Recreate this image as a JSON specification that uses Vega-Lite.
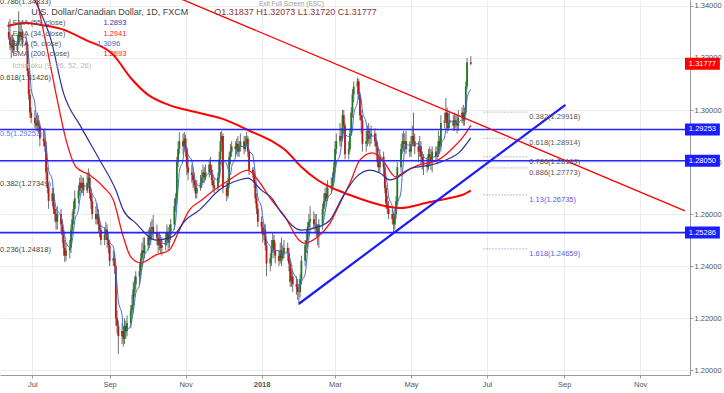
{
  "$schema": "https://vega.github.io/schema/vega-lite/v6.json",
  "width": 690,
  "height": 375,
  "autosize": "none",
  "padding": {"left": 0, "top": 0, "right": 34, "bottom": 18},
  "background": "#ffffff",
  "config": {"view": {"stroke": null}, "font": "Liberation Sans"},
  "datasets": {
    "candles": [
      {"d":"2017-06-12","o":1.3300,"h":1.3340,"l":1.3270,"c":1.3280},
      {"d":"2017-06-13","o":1.3280,"h":1.3350,"l":1.3230,"c":1.3250},
      {"d":"2017-06-14","o":1.3250,"h":1.3290,"l":1.3200,"c":1.3240},
      {"d":"2017-06-15","o":1.3240,"h":1.3290,"l":1.3220,"c":1.3270},
      {"d":"2017-06-16","o":1.3270,"h":1.3280,"l":1.3210,"c":1.3230},
      {"d":"2017-06-19","o":1.3230,"h":1.3290,"l":1.3220,"c":1.3260},
      {"d":"2017-06-20","o":1.3260,"h":1.3380,"l":1.3250,"c":1.3300},
      {"d":"2017-06-21","o":1.3300,"h":1.3330,"l":1.3260,"c":1.3280},
      {"d":"2017-06-22","o":1.3280,"h":1.3340,"l":1.3270,"c":1.3300},
      {"d":"2017-06-23","o":1.3300,"h":1.3310,"l":1.3240,"c":1.3260},
      {"d":"2017-06-26","o":1.3260,"h":1.3290,"l":1.3230,"c":1.3250},
      {"d":"2017-06-27","o":1.3250,"h":1.3260,"l":1.3130,"c":1.3150},
      {"d":"2017-06-28","o":1.3150,"h":1.3160,"l":1.3040,"c":1.3060},
      {"d":"2017-06-29","o":1.3060,"h":1.3080,"l":1.2970,"c":1.2990},
      {"d":"2017-06-30","o":1.2990,"h":1.3010,"l":1.2950,"c":1.2970},
      {"d":"2017-07-03","o":1.2970,"h":1.3000,"l":1.2930,"c":1.2950},
      {"d":"2017-07-04","o":1.2950,"h":1.2980,"l":1.2920,"c":1.2940},
      {"d":"2017-07-05","o":1.2940,"h":1.2990,"l":1.2920,"c":1.2960},
      {"d":"2017-07-06","o":1.2960,"h":1.2980,"l":1.2910,"c":1.2940},
      {"d":"2017-07-07","o":1.2940,"h":1.2950,"l":1.2860,"c":1.2890},
      {"d":"2017-07-10","o":1.2890,"h":1.2920,"l":1.2860,"c":1.2880},
      {"d":"2017-07-11","o":1.2880,"h":1.2930,"l":1.2840,"c":1.2860},
      {"d":"2017-07-12","o":1.2860,"h":1.2880,"l":1.2730,"c":1.2760},
      {"d":"2017-07-13","o":1.2760,"h":1.2780,"l":1.2680,"c":1.2700},
      {"d":"2017-07-14","o":1.2700,"h":1.2720,"l":1.2620,"c":1.2650},
      {"d":"2017-07-17","o":1.2650,"h":1.2700,"l":1.2630,"c":1.2680},
      {"d":"2017-07-18","o":1.2680,"h":1.2700,"l":1.2600,"c":1.2620},
      {"d":"2017-07-19","o":1.2620,"h":1.2640,"l":1.2570,"c":1.2600},
      {"d":"2017-07-20","o":1.2600,"h":1.2620,"l":1.2540,"c":1.2570},
      {"d":"2017-07-21","o":1.2570,"h":1.2630,"l":1.2540,"c":1.2600},
      {"d":"2017-07-24","o":1.2600,"h":1.2620,"l":1.2530,"c":1.2560},
      {"d":"2017-07-25","o":1.2560,"h":1.2580,"l":1.2490,"c":1.2520},
      {"d":"2017-07-26","o":1.2520,"h":1.2540,"l":1.2440,"c":1.2470},
      {"d":"2017-07-27","o":1.2470,"h":1.2500,"l":1.2415,"c":1.2440},
      {"d":"2017-07-28","o":1.2440,"h":1.2490,"l":1.2420,"c":1.2460},
      {"d":"2017-07-31","o":1.2460,"h":1.2500,"l":1.2430,"c":1.2470},
      {"d":"2017-08-01","o":1.2470,"h":1.2560,"l":1.2450,"c":1.2540},
      {"d":"2017-08-02","o":1.2540,"h":1.2610,"l":1.2520,"c":1.2580},
      {"d":"2017-08-03","o":1.2580,"h":1.2650,"l":1.2560,"c":1.2620},
      {"d":"2017-08-04","o":1.2620,"h":1.2690,"l":1.2600,"c":1.2660},
      {"d":"2017-08-07","o":1.2660,"h":1.2710,"l":1.2640,"c":1.2690},
      {"d":"2017-08-08","o":1.2690,"h":1.2740,"l":1.2670,"c":1.2720},
      {"d":"2017-08-09","o":1.2720,"h":1.2750,"l":1.2680,"c":1.2700},
      {"d":"2017-08-10","o":1.2700,"h":1.2740,"l":1.2680,"c":1.2720},
      {"d":"2017-08-11","o":1.2720,"h":1.2740,"l":1.2670,"c":1.2690},
      {"d":"2017-08-14","o":1.2690,"h":1.2760,"l":1.2680,"c":1.2720},
      {"d":"2017-08-15","o":1.2720,"h":1.2775,"l":1.2700,"c":1.2740},
      {"d":"2017-08-16","o":1.2740,"h":1.2760,"l":1.2660,"c":1.2680},
      {"d":"2017-08-17","o":1.2680,"h":1.2700,"l":1.2620,"c":1.2650},
      {"d":"2017-08-18","o":1.2650,"h":1.2670,"l":1.2580,"c":1.2600},
      {"d":"2017-08-21","o":1.2600,"h":1.2630,"l":1.2560,"c":1.2580},
      {"d":"2017-08-22","o":1.2580,"h":1.2640,"l":1.2560,"c":1.2600},
      {"d":"2017-08-23","o":1.2600,"h":1.2620,"l":1.2530,"c":1.2560},
      {"d":"2017-08-24","o":1.2560,"h":1.2580,"l":1.2510,"c":1.2540},
      {"d":"2017-08-25","o":1.2540,"h":1.2560,"l":1.2480,"c":1.2500},
      {"d":"2017-08-28","o":1.2500,"h":1.2550,"l":1.2480,"c":1.2520},
      {"d":"2017-08-29","o":1.2520,"h":1.2570,"l":1.2500,"c":1.2540},
      {"d":"2017-08-30","o":1.2540,"h":1.2560,"l":1.2470,"c":1.2500},
      {"d":"2017-08-31","o":1.2500,"h":1.2530,"l":1.2450,"c":1.2480},
      {"d":"2017-09-01","o":1.2480,"h":1.2500,"l":1.2400,"c":1.2420},
      {"d":"2017-09-04","o":1.2420,"h":1.2460,"l":1.2400,"c":1.2430},
      {"d":"2017-09-05","o":1.2430,"h":1.2450,"l":1.2370,"c":1.2400},
      {"d":"2017-09-06","o":1.2400,"h":1.2410,"l":1.2170,"c":1.2200},
      {"d":"2017-09-07","o":1.2200,"h":1.2230,"l":1.2140,"c":1.2170},
      {"d":"2017-09-08","o":1.2170,"h":1.2190,"l":1.2062,"c":1.2130},
      {"d":"2017-09-11","o":1.2130,"h":1.2180,"l":1.2100,"c":1.2150},
      {"d":"2017-09-12","o":1.2150,"h":1.2170,"l":1.2090,"c":1.2120},
      {"d":"2017-09-13","o":1.2120,"h":1.2200,"l":1.2100,"c":1.2170},
      {"d":"2017-09-14","o":1.2170,"h":1.2190,"l":1.2120,"c":1.2150},
      {"d":"2017-09-15","o":1.2150,"h":1.2210,"l":1.2130,"c":1.2180},
      {"d":"2017-09-18","o":1.2180,"h":1.2250,"l":1.2160,"c":1.2230},
      {"d":"2017-09-19","o":1.2230,"h":1.2290,"l":1.2210,"c":1.2250},
      {"d":"2017-09-20","o":1.2250,"h":1.2340,"l":1.2220,"c":1.2310},
      {"d":"2017-09-21","o":1.2310,"h":1.2360,"l":1.2280,"c":1.2330},
      {"d":"2017-09-22","o":1.2330,"h":1.2380,"l":1.2300,"c":1.2360},
      {"d":"2017-09-25","o":1.2360,"h":1.2410,"l":1.2330,"c":1.2380},
      {"d":"2017-09-26","o":1.2380,"h":1.2450,"l":1.2350,"c":1.2430},
      {"d":"2017-09-27","o":1.2430,"h":1.2490,"l":1.2400,"c":1.2460},
      {"d":"2017-09-28","o":1.2460,"h":1.2510,"l":1.2420,"c":1.2450},
      {"d":"2017-09-29","o":1.2450,"h":1.2510,"l":1.2430,"c":1.2480},
      {"d":"2017-10-02","o":1.2480,"h":1.2540,"l":1.2460,"c":1.2510},
      {"d":"2017-10-03","o":1.2510,"h":1.2550,"l":1.2470,"c":1.2500},
      {"d":"2017-10-04","o":1.2500,"h":1.2570,"l":1.2480,"c":1.2540},
      {"d":"2017-10-05","o":1.2540,"h":1.2580,"l":1.2510,"c":1.2550},
      {"d":"2017-10-06","o":1.2550,"h":1.2596,"l":1.2500,"c":1.2530},
      {"d":"2017-10-09","o":1.2530,"h":1.2560,"l":1.2480,"c":1.2510},
      {"d":"2017-10-10","o":1.2510,"h":1.2530,"l":1.2450,"c":1.2480},
      {"d":"2017-10-11","o":1.2480,"h":1.2530,"l":1.2460,"c":1.2500},
      {"d":"2017-10-12","o":1.2500,"h":1.2520,"l":1.2450,"c":1.2470},
      {"d":"2017-10-13","o":1.2470,"h":1.2510,"l":1.2440,"c":1.2480},
      {"d":"2017-10-16","o":1.2480,"h":1.2530,"l":1.2460,"c":1.2500},
      {"d":"2017-10-17","o":1.2500,"h":1.2560,"l":1.2480,"c":1.2530},
      {"d":"2017-10-18","o":1.2530,"h":1.2550,"l":1.2460,"c":1.2490},
      {"d":"2017-10-19","o":1.2490,"h":1.2560,"l":1.2470,"c":1.2520},
      {"d":"2017-10-20","o":1.2520,"h":1.2580,"l":1.2500,"c":1.2560},
      {"d":"2017-10-23","o":1.2560,"h":1.2660,"l":1.2540,"c":1.2630},
      {"d":"2017-10-24","o":1.2630,"h":1.2680,"l":1.2610,"c":1.2660},
      {"d":"2017-10-25","o":1.2660,"h":1.2820,"l":1.2640,"c":1.2800},
      {"d":"2017-10-26","o":1.2800,"h":1.2880,"l":1.2780,"c":1.2850},
      {"d":"2017-10-27","o":1.2850,"h":1.2915,"l":1.2830,"c":1.2880},
      {"d":"2017-10-30","o":1.2880,"h":1.2910,"l":1.2830,"c":1.2860},
      {"d":"2017-10-31","o":1.2860,"h":1.2915,"l":1.2840,"c":1.2890},
      {"d":"2017-11-01","o":1.2890,"h":1.2905,"l":1.2820,"c":1.2850},
      {"d":"2017-11-02","o":1.2850,"h":1.2860,"l":1.2750,"c":1.2780},
      {"d":"2017-11-03","o":1.2780,"h":1.2820,"l":1.2730,"c":1.2760},
      {"d":"2017-11-06","o":1.2760,"h":1.2790,"l":1.2720,"c":1.2750},
      {"d":"2017-11-07","o":1.2750,"h":1.2780,"l":1.2700,"c":1.2730},
      {"d":"2017-11-08","o":1.2730,"h":1.2760,"l":1.2690,"c":1.2710},
      {"d":"2017-11-09","o":1.2710,"h":1.2730,"l":1.2660,"c":1.2680},
      {"d":"2017-11-10","o":1.2680,"h":1.2730,"l":1.2660,"c":1.2700},
      {"d":"2017-11-13","o":1.2700,"h":1.2750,"l":1.2690,"c":1.2720},
      {"d":"2017-11-14","o":1.2720,"h":1.2770,"l":1.2700,"c":1.2740},
      {"d":"2017-11-15","o":1.2740,"h":1.2790,"l":1.2720,"c":1.2760},
      {"d":"2017-11-16","o":1.2760,"h":1.2780,"l":1.2720,"c":1.2740},
      {"d":"2017-11-17","o":1.2740,"h":1.2790,"l":1.2730,"c":1.2760},
      {"d":"2017-11-20","o":1.2760,"h":1.2810,"l":1.2740,"c":1.2790},
      {"d":"2017-11-21","o":1.2790,"h":1.2820,"l":1.2750,"c":1.2770},
      {"d":"2017-11-22","o":1.2770,"h":1.2790,"l":1.2710,"c":1.2730},
      {"d":"2017-11-23","o":1.2730,"h":1.2750,"l":1.2690,"c":1.2710},
      {"d":"2017-11-24","o":1.2710,"h":1.2740,"l":1.2680,"c":1.2700},
      {"d":"2017-11-27","o":1.2700,"h":1.2760,"l":1.2690,"c":1.2740},
      {"d":"2017-11-28","o":1.2740,"h":1.2840,"l":1.2720,"c":1.2810},
      {"d":"2017-11-29","o":1.2810,"h":1.2915,"l":1.2790,"c":1.2880},
      {"d":"2017-11-30","o":1.2880,"h":1.2920,"l":1.2840,"c":1.2900},
      {"d":"2017-12-01","o":1.2900,"h":1.2910,"l":1.2680,"c":1.2700},
      {"d":"2017-12-04","o":1.2700,"h":1.2720,"l":1.2650,"c":1.2670},
      {"d":"2017-12-05","o":1.2670,"h":1.2740,"l":1.2660,"c":1.2720},
      {"d":"2017-12-06","o":1.2720,"h":1.2840,"l":1.2700,"c":1.2820},
      {"d":"2017-12-07","o":1.2820,"h":1.2870,"l":1.2790,"c":1.2840},
      {"d":"2017-12-08","o":1.2840,"h":1.2880,"l":1.2820,"c":1.2860},
      {"d":"2017-12-11","o":1.2860,"h":1.2880,"l":1.2820,"c":1.2850},
      {"d":"2017-12-12","o":1.2850,"h":1.2890,"l":1.2830,"c":1.2870},
      {"d":"2017-12-13","o":1.2870,"h":1.2900,"l":1.2820,"c":1.2840},
      {"d":"2017-12-14","o":1.2840,"h":1.2880,"l":1.2820,"c":1.2860},
      {"d":"2017-12-15","o":1.2860,"h":1.2910,"l":1.2840,"c":1.2880},
      {"d":"2017-12-18","o":1.2880,"h":1.2900,"l":1.2830,"c":1.2850},
      {"d":"2017-12-19","o":1.2850,"h":1.2900,"l":1.2840,"c":1.2870},
      {"d":"2017-12-20","o":1.2870,"h":1.2916,"l":1.2860,"c":1.2890},
      {"d":"2017-12-21","o":1.2890,"h":1.2900,"l":1.2820,"c":1.2840},
      {"d":"2017-12-22","o":1.2840,"h":1.2850,"l":1.2750,"c":1.2770},
      {"d":"2017-12-25","o":1.2770,"h":1.2780,"l":1.2740,"c":1.2760},
      {"d":"2017-12-26","o":1.2760,"h":1.2780,"l":1.2700,"c":1.2720},
      {"d":"2017-12-27","o":1.2720,"h":1.2730,"l":1.2640,"c":1.2660},
      {"d":"2017-12-28","o":1.2660,"h":1.2680,"l":1.2600,"c":1.2620},
      {"d":"2017-12-29","o":1.2620,"h":1.2640,"l":1.2550,"c":1.2570},
      {"d":"2018-01-01","o":1.2570,"h":1.2590,"l":1.2530,"c":1.2550},
      {"d":"2018-01-02","o":1.2550,"h":1.2570,"l":1.2490,"c":1.2520},
      {"d":"2018-01-03","o":1.2520,"h":1.2560,"l":1.2500,"c":1.2540},
      {"d":"2018-01-04","o":1.2540,"h":1.2560,"l":1.2460,"c":1.2480},
      {"d":"2018-01-05","o":1.2480,"h":1.2500,"l":1.2360,"c":1.2410},
      {"d":"2018-01-08","o":1.2410,"h":1.2450,"l":1.2380,"c":1.2430},
      {"d":"2018-01-09","o":1.2430,"h":1.2500,"l":1.2400,"c":1.2470},
      {"d":"2018-01-10","o":1.2470,"h":1.2530,"l":1.2450,"c":1.2500},
      {"d":"2018-01-11","o":1.2500,"h":1.2520,"l":1.2430,"c":1.2460},
      {"d":"2018-01-12","o":1.2460,"h":1.2490,"l":1.2410,"c":1.2440},
      {"d":"2018-01-15","o":1.2440,"h":1.2460,"l":1.2400,"c":1.2420},
      {"d":"2018-01-16","o":1.2420,"h":1.2490,"l":1.2410,"c":1.2460},
      {"d":"2018-01-17","o":1.2460,"h":1.2510,"l":1.2400,"c":1.2430},
      {"d":"2018-01-18","o":1.2430,"h":1.2480,"l":1.2420,"c":1.2450},
      {"d":"2018-01-19","o":1.2450,"h":1.2500,"l":1.2430,"c":1.2470},
      {"d":"2018-01-22","o":1.2470,"h":1.2490,"l":1.2420,"c":1.2450},
      {"d":"2018-01-23","o":1.2450,"h":1.2470,"l":1.2380,"c":1.2410},
      {"d":"2018-01-24","o":1.2410,"h":1.2420,"l":1.2320,"c":1.2340},
      {"d":"2018-01-25","o":1.2340,"h":1.2390,"l":1.2320,"c":1.2360},
      {"d":"2018-01-26","o":1.2360,"h":1.2380,"l":1.2300,"c":1.2330},
      {"d":"2018-01-29","o":1.2330,"h":1.2360,"l":1.2290,"c":1.2320},
      {"d":"2018-01-30","o":1.2320,"h":1.2350,"l":1.2270,"c":1.2300},
      {"d":"2018-01-31","o":1.2300,"h":1.2330,"l":1.2250,"c":1.2300},
      {"d":"2018-02-01","o":1.2300,"h":1.2370,"l":1.2280,"c":1.2350},
      {"d":"2018-02-02","o":1.2350,"h":1.2440,"l":1.2330,"c":1.2420},
      {"d":"2018-02-05","o":1.2420,"h":1.2500,"l":1.2400,"c":1.2480},
      {"d":"2018-02-06","o":1.2480,"h":1.2540,"l":1.2450,"c":1.2500},
      {"d":"2018-02-07","o":1.2500,"h":1.2570,"l":1.2470,"c":1.2550},
      {"d":"2018-02-08","o":1.2550,"h":1.2600,"l":1.2520,"c":1.2570},
      {"d":"2018-02-09","o":1.2570,"h":1.2630,"l":1.2540,"c":1.2580},
      {"d":"2018-02-12","o":1.2580,"h":1.2610,"l":1.2540,"c":1.2560},
      {"d":"2018-02-13","o":1.2560,"h":1.2600,"l":1.2530,"c":1.2560},
      {"d":"2018-02-14","o":1.2560,"h":1.2600,"l":1.2510,"c":1.2540},
      {"d":"2018-02-15","o":1.2540,"h":1.2560,"l":1.2480,"c":1.2520},
      {"d":"2018-02-16","o":1.2520,"h":1.2580,"l":1.2470,"c":1.2560},
      {"d":"2018-02-19","o":1.2560,"h":1.2640,"l":1.2540,"c":1.2620},
      {"d":"2018-02-20","o":1.2620,"h":1.2680,"l":1.2600,"c":1.2650},
      {"d":"2018-02-21","o":1.2650,"h":1.2700,"l":1.2630,"c":1.2680},
      {"d":"2018-02-22","o":1.2680,"h":1.2710,"l":1.2640,"c":1.2660},
      {"d":"2018-02-23","o":1.2660,"h":1.2730,"l":1.2650,"c":1.2700},
      {"d":"2018-02-26","o":1.2700,"h":1.2740,"l":1.2680,"c":1.2710},
      {"d":"2018-02-27","o":1.2710,"h":1.2760,"l":1.2690,"c":1.2740},
      {"d":"2018-02-28","o":1.2740,"h":1.2800,"l":1.2720,"c":1.2780},
      {"d":"2018-03-01","o":1.2780,"h":1.2880,"l":1.2760,"c":1.2850},
      {"d":"2018-03-02","o":1.2850,"h":1.2910,"l":1.2830,"c":1.2880},
      {"d":"2018-03-05","o":1.2880,"h":1.2950,"l":1.2860,"c":1.2900},
      {"d":"2018-03-06","o":1.2900,"h":1.2930,"l":1.2860,"c":1.2890},
      {"d":"2018-03-07","o":1.2890,"h":1.3000,"l":1.2880,"c":1.2980},
      {"d":"2018-03-08","o":1.2980,"h":1.3000,"l":1.2910,"c":1.2940},
      {"d":"2018-03-09","o":1.2940,"h":1.2950,"l":1.2810,"c":1.2830},
      {"d":"2018-03-12","o":1.2830,"h":1.2880,"l":1.2810,"c":1.2850},
      {"d":"2018-03-13","o":1.2850,"h":1.2930,"l":1.2840,"c":1.2910},
      {"d":"2018-03-14","o":1.2910,"h":1.3010,"l":1.2900,"c":1.2990},
      {"d":"2018-03-15","o":1.2990,"h":1.3080,"l":1.2970,"c":1.3060},
      {"d":"2018-03-16","o":1.3060,"h":1.3110,"l":1.3030,"c":1.3090},
      {"d":"2018-03-19","o":1.3090,"h":1.3125,"l":1.3060,"c":1.3110},
      {"d":"2018-03-20","o":1.3110,"h":1.3120,"l":1.3040,"c":1.3060},
      {"d":"2018-03-21","o":1.3060,"h":1.3070,"l":1.2960,"c":1.2980},
      {"d":"2018-03-22","o":1.2980,"h":1.3000,"l":1.2910,"c":1.2960},
      {"d":"2018-03-23","o":1.2960,"h":1.2980,"l":1.2840,"c":1.2870},
      {"d":"2018-03-26","o":1.2870,"h":1.2920,"l":1.2840,"c":1.2880},
      {"d":"2018-03-27","o":1.2880,"h":1.2940,"l":1.2860,"c":1.2920},
      {"d":"2018-03-28","o":1.2920,"h":1.2950,"l":1.2870,"c":1.2890},
      {"d":"2018-03-29","o":1.2890,"h":1.2930,"l":1.2860,"c":1.2900},
      {"d":"2018-03-30","o":1.2900,"h":1.2940,"l":1.2870,"c":1.2910},
      {"d":"2018-04-02","o":1.2910,"h":1.2930,"l":1.2860,"c":1.2880},
      {"d":"2018-04-03","o":1.2880,"h":1.2910,"l":1.2830,"c":1.2860},
      {"d":"2018-04-04","o":1.2860,"h":1.2880,"l":1.2780,"c":1.2800},
      {"d":"2018-04-05","o":1.2800,"h":1.2830,"l":1.2760,"c":1.2780},
      {"d":"2018-04-06","o":1.2780,"h":1.2850,"l":1.2760,"c":1.2820},
      {"d":"2018-04-09","o":1.2820,"h":1.2840,"l":1.2750,"c":1.2780},
      {"d":"2018-04-10","o":1.2780,"h":1.2790,"l":1.2680,"c":1.2700},
      {"d":"2018-04-11","o":1.2700,"h":1.2710,"l":1.2620,"c":1.2640},
      {"d":"2018-04-12","o":1.2640,"h":1.2670,"l":1.2600,"c":1.2620},
      {"d":"2018-04-13","o":1.2620,"h":1.2650,"l":1.2580,"c":1.2600},
      {"d":"2018-04-16","o":1.2600,"h":1.2620,"l":1.2560,"c":1.2580},
      {"d":"2018-04-17","o":1.2580,"h":1.2600,"l":1.2527,"c":1.2560},
      {"d":"2018-04-18","o":1.2560,"h":1.2620,"l":1.2540,"c":1.2600},
      {"d":"2018-04-19","o":1.2600,"h":1.2670,"l":1.2580,"c":1.2650},
      {"d":"2018-04-20","o":1.2650,"h":1.2800,"l":1.2640,"c":1.2780},
      {"d":"2018-04-23","o":1.2780,"h":1.2870,"l":1.2760,"c":1.2850},
      {"d":"2018-04-24","o":1.2850,"h":1.2910,"l":1.2830,"c":1.2880},
      {"d":"2018-04-25","o":1.2880,"h":1.2920,"l":1.2840,"c":1.2870},
      {"d":"2018-04-26","o":1.2870,"h":1.2910,"l":1.2840,"c":1.2880},
      {"d":"2018-04-27","o":1.2880,"h":1.2920,"l":1.2830,"c":1.2850},
      {"d":"2018-04-30","o":1.2850,"h":1.2880,"l":1.2820,"c":1.2840},
      {"d":"2018-05-01","o":1.2840,"h":1.2900,"l":1.2820,"c":1.2870},
      {"d":"2018-05-02","o":1.2870,"h":1.2940,"l":1.2860,"c":1.2900},
      {"d":"2018-05-03","o":1.2900,"h":1.2990,"l":1.2860,"c":1.2880},
      {"d":"2018-05-04","o":1.2880,"h":1.2910,"l":1.2830,"c":1.2860},
      {"d":"2018-05-07","o":1.2860,"h":1.2880,"l":1.2800,"c":1.2840},
      {"d":"2018-05-08","o":1.2840,"h":1.2900,"l":1.2820,"c":1.2860},
      {"d":"2018-05-09","o":1.2860,"h":1.2880,"l":1.2790,"c":1.2820},
      {"d":"2018-05-10","o":1.2820,"h":1.2840,"l":1.2770,"c":1.2800},
      {"d":"2018-05-11","o":1.2800,"h":1.2830,"l":1.2750,"c":1.2790},
      {"d":"2018-05-14","o":1.2790,"h":1.2820,"l":1.2760,"c":1.2780},
      {"d":"2018-05-15","o":1.2780,"h":1.2850,"l":1.2770,"c":1.2830},
      {"d":"2018-05-16","o":1.2830,"h":1.2860,"l":1.2790,"c":1.2820},
      {"d":"2018-05-17","o":1.2820,"h":1.2850,"l":1.2770,"c":1.2800},
      {"d":"2018-05-18","o":1.2800,"h":1.2860,"l":1.2760,"c":1.2840},
      {"d":"2018-05-21","o":1.2840,"h":1.2860,"l":1.2800,"c":1.2820},
      {"d":"2018-05-22","o":1.2820,"h":1.2860,"l":1.2790,"c":1.2830},
      {"d":"2018-05-23","o":1.2830,"h":1.2920,"l":1.2820,"c":1.2880},
      {"d":"2018-05-24","o":1.2880,"h":1.2900,"l":1.2830,"c":1.2860},
      {"d":"2018-05-25","o":1.2860,"h":1.2980,"l":1.2840,"c":1.2950},
      {"d":"2018-05-28","o":1.2950,"h":1.2990,"l":1.2930,"c":1.2960},
      {"d":"2018-05-29","o":1.2960,"h":1.3046,"l":1.2950,"c":1.2990},
      {"d":"2018-05-30","o":1.2990,"h":1.3010,"l":1.2910,"c":1.2930},
      {"d":"2018-05-31","o":1.2930,"h":1.2990,"l":1.2920,"c":1.2950},
      {"d":"2018-06-01","o":1.2950,"h":1.2990,"l":1.2930,"c":1.2960},
      {"d":"2018-06-04","o":1.2960,"h":1.2980,"l":1.2920,"c":1.2940},
      {"d":"2018-06-05","o":1.2940,"h":1.2990,"l":1.2920,"c":1.2960},
      {"d":"2018-06-06","o":1.2960,"h":1.2980,"l":1.2930,"c":1.2950},
      {"d":"2018-06-07","o":1.2950,"h":1.2980,"l":1.2910,"c":1.2940},
      {"d":"2018-06-08","o":1.2940,"h":1.3000,"l":1.2920,"c":1.2970},
      {"d":"2018-06-11","o":1.2970,"h":1.3010,"l":1.2950,"c":1.2990},
      {"d":"2018-06-12","o":1.2990,"h":1.3020,"l":1.2940,"c":1.2960},
      {"d":"2018-06-13","o":1.2960,"h":1.3010,"l":1.2940,"c":1.2990},
      {"d":"2018-06-14","o":1.2990,"h":1.3110,"l":1.2980,"c":1.3090},
      {"d":"2018-06-15","o":1.3090,"h":1.3200,"l":1.3080,"c":1.3184},
      {"d":"2018-06-18","o":1.31837,"h":1.32073,"l":1.3172,"c":1.31777}
    ],
    "ma200": [
      {"d":"2017-06-11","v":1.3323},{"d":"2017-06-25","v":1.3335},{"d":"2017-07-08","v":1.3327},{"d":"2017-07-24","v":1.3312},
      {"d":"2017-08-13","v":1.3269},{"d":"2017-09-04","v":1.3212},{"d":"2017-09-18","v":1.3123},{"d":"2017-10-02","v":1.3058},
      {"d":"2017-10-19","v":1.3019},{"d":"2017-11-09","v":1.2992},{"d":"2017-12-03","v":1.2962},{"d":"2017-12-21","v":1.2923},
      {"d":"2018-01-09","v":1.2881},{"d":"2018-01-20","v":1.2846},{"d":"2018-02-02","v":1.2781},{"d":"2018-02-15","v":1.2731},
      {"d":"2018-02-25","v":1.2704},{"d":"2018-03-13","v":1.2673},{"d":"2018-03-29","v":1.2646},{"d":"2018-04-14","v":1.2627},
      {"d":"2018-04-22","v":1.2623},{"d":"2018-05-16","v":1.2646},{"d":"2018-06-01","v":1.2662},{"d":"2018-06-11","v":1.2673},
      {"d":"2018-06-18","v":1.2690}
    ],
    "ema34": [
      {"d":"2017-07-01","v":1.3508},{"d":"2017-07-05","v":1.3415},{"d":"2017-07-13","v":1.3231},{"d":"2017-07-21","v":1.3038},
      {"d":"2017-07-28","v":1.2885},{"d":"2017-08-05","v":1.2781},{"d":"2017-08-16","v":1.2750},{"d":"2017-08-27","v":1.2704},
      {"d":"2017-09-04","v":1.2654},{"d":"2017-09-12","v":1.2512},{"d":"2017-09-18","v":1.2435},{"d":"2017-09-26","v":1.2412},
      {"d":"2017-10-08","v":1.2442},{"d":"2017-10-19","v":1.2462},{"d":"2017-10-27","v":1.2538},{"d":"2017-11-04","v":1.2615},
      {"d":"2017-11-14","v":1.2654},{"d":"2017-11-24","v":1.2692},{"d":"2017-12-06","v":1.2731},{"d":"2017-12-21","v":1.2769},
      {"d":"2017-12-29","v":1.2731},{"d":"2018-01-09","v":1.2654},{"d":"2018-01-20","v":1.2588},{"d":"2018-01-31","v":1.2500},
      {"d":"2018-02-04","v":1.2488},{"d":"2018-02-15","v":1.2512},{"d":"2018-02-25","v":1.2565},{"d":"2018-03-05","v":1.2642},
      {"d":"2018-03-13","v":1.2719},{"d":"2018-03-21","v":1.2808},{"d":"2018-03-31","v":1.2835},{"d":"2018-04-08","v":1.2808},
      {"d":"2018-04-19","v":1.2742},{"d":"2018-04-24","v":1.2758},{"d":"2018-05-07","v":1.2788},{"d":"2018-05-23","v":1.2808},
      {"d":"2018-06-02","v":1.2846},{"d":"2018-06-13","v":1.2904},{"d":"2018-06-18","v":1.2941}
    ],
    "ema55": [
      {"d":"2017-06-25","v":1.3510},{"d":"2017-07-03","v":1.3423},{"d":"2017-07-16","v":1.3269},{"d":"2017-07-26","v":1.3065},
      {"d":"2017-08-09","v":1.2935},{"d":"2017-08-24","v":1.2808},{"d":"2017-09-06","v":1.2692},{"d":"2017-09-12","v":1.2615},
      {"d":"2017-09-22","v":1.2565},{"d":"2017-10-08","v":1.2500},{"d":"2017-10-21","v":1.2512},{"d":"2017-11-01","v":1.2577},
      {"d":"2017-11-12","v":1.2615},{"d":"2017-11-28","v":1.2692},{"d":"2017-12-14","v":1.2731},{"d":"2017-12-21","v":1.2738},
      {"d":"2018-01-01","v":1.2692},{"d":"2018-01-09","v":1.2662},{"d":"2018-01-17","v":1.2604},{"d":"2018-02-02","v":1.2538},
      {"d":"2018-02-15","v":1.2550},{"d":"2018-02-25","v":1.2577},{"d":"2018-03-07","v":1.2665},{"d":"2018-03-18","v":1.2742},
      {"d":"2018-03-29","v":1.2769},{"d":"2018-04-06","v":1.2758},{"d":"2018-04-14","v":1.2731},{"d":"2018-04-19","v":1.2738},
      {"d":"2018-05-02","v":1.2777},{"d":"2018-05-16","v":1.2788},{"d":"2018-05-29","v":1.2808},{"d":"2018-06-09","v":1.2838},
      {"d":"2018-06-18","v":1.2893}
    ]
  },
  "layer": [
    {
      "data": {"name": "candles"},
      "mark": {"type": "rule", "color": "#4a4a4a", "strokeWidth": 0.8},
      "encoding": {
        "x": {"field": "d", "type": "temporal", "title": null,
          "scale": {"domain": [{"year": 2017, "month": 6, "date": 9, "utc": true}, {"year": 2018, "month": 12, "date": 7, "utc": true}]},
          "axis": {"orient": "bottom", "title": null, "tickCount": {"interval": "month", "step": 2},
            "labelExpr": "month(datum.value) == 0 ? timeFormat(datum.value, '%Y') : timeFormat(datum.value, '%b')",
            "labelFontWeight": {"condition": {"test": "month(datum.value) == 0", "value": "bold"}, "value": "normal"},
            "grid": true, "gridColor": "#ededed", "domainColor": "#9a9a9a", "tickColor": "#9a9a9a", "tickSize": 3,
            "labelColor": "#555555", "labelFontSize": 7.5, "labelPadding": 2, "labelFlush": false, "labelOverlap": false, "zindex": 0}},
        "y": {"field": "l", "type": "quantitative", "title": null,
          "scale": {"domain": [1.1981, 1.3423], "nice": false, "zero": false},
          "axis": {"orient": "right", "title": null, "values": [1.2, 1.21, 1.22, 1.23, 1.24, 1.25, 1.26, 1.27, 1.28, 1.29, 1.3, 1.31, 1.32, 1.33, 1.34],
            "format": ".5f", "grid": true, "gridColor": "#ededed", "domainColor": "#9a9a9a", "tickColor": "#9a9a9a", "tickSize": 3,
            "labelColor": "#555555", "labelFontSize": 7.5, "labelPadding": 1, "labelOverlap": false, "labelFlush": false, "zindex": 0}},
        "y2": {"field": "h"}
      }
    },
    {
      "data": {"name": "candles"},
      "mark": {"type": "bar", "size": 1.8},
      "encoding": {
        "x": {"field": "d", "type": "temporal", "title": null},
        "y": {"field": "o", "type": "quantitative", "title": null},
        "y2": {"field": "c"},
        "color": {"condition": {"test": "datum.c >= datum.o", "value": "#217a21"}, "value": "#c01515"}
      }
    },
    {
      "data": {"name": "candles"},
      "transform": [{"window": [{"op": "mean", "field": "c", "as": "ma5"}], "frame": [-4, 0], "sort": [{"field": "d"}]}],
      "mark": {"type": "line", "color": "#3b6ed9", "strokeWidth": 1, "interpolate": "monotone"},
      "encoding": {
        "x": {"field": "d", "type": "temporal", "title": null},
        "y": {"field": "ma5", "type": "quantitative", "title": null}
      }
    },
    {
      "data": {"name": "ma200"},
      "mark": {"type": "line", "color": "#ff0000", "strokeWidth": 2, "interpolate": "monotone", "clip": true},
      "encoding": {
        "x": {"field": "d", "type": "temporal", "title": null},
        "y": {"field": "v", "type": "quantitative", "title": null}
      }
    },
    {
      "data": {"name": "ema34"},
      "mark": {"type": "line", "color": "#ff1010", "strokeWidth": 1.3, "interpolate": "monotone", "clip": true},
      "encoding": {
        "x": {"field": "d", "type": "temporal", "title": null},
        "y": {"field": "v", "type": "quantitative", "title": null}
      }
    },
    {
      "data": {"name": "ema55"},
      "mark": {"type": "line", "color": "#2e2e9c", "strokeWidth": 1.2, "interpolate": "monotone", "clip": true},
      "encoding": {
        "x": {"field": "d", "type": "temporal", "title": null},
        "y": {"field": "v", "type": "quantitative", "title": null}
      }
    },
    {
      "data": {"values": [{"p": 1.29253}, {"p": 1.2805}, {"p": 1.25286}]},
      "mark": {"type": "rule", "color": "#2424ff", "strokeWidth": 1.6},
      "encoding": {"y": {"field": "p", "type": "quantitative", "title": null}}
    },
    {
      "data": {"values": [{"d": "2017-10-01", "p": 1.3482}, {"d": "2018-12-07", "p": 1.2612}]},
      "mark": {"type": "line", "color": "#ff0000", "strokeWidth": 1.3, "clip": true},
      "encoding": {
        "x": {"field": "d", "type": "temporal", "title": null},
        "y": {"field": "p", "type": "quantitative", "title": null}
      }
    },
    {
      "data": {"values": [{"d": "2018-01-31", "p": 1.2255}, {"d": "2018-09-02", "p": 1.302}]},
      "mark": {"type": "line", "color": "#1a1aff", "strokeWidth": 2.2},
      "encoding": {
        "x": {"field": "d", "type": "temporal", "title": null},
        "y": {"field": "p", "type": "quantitative", "title": null}
      }
    },
    {
      "data": {"values": [
        {"p": 1.29918, "k": "a", "t": "0.382(1.29918)"},
        {"p": 1.28914, "k": "a", "t": "0.618(1.28914)"},
        {"p": 1.28199, "k": "a", "t": "0.786(1.28199)"},
        {"p": 1.27773, "k": "a", "t": "0.886(1.27773)"},
        {"p": 1.26735, "k": "b", "t": "1.13(1.26735)"},
        {"p": 1.24659, "k": "b", "t": "1.618(1.24659)"}
      ]},
      "layer": [
        {
          "mark": {"type": "rule", "strokeWidth": 0.8, "strokeDash": [1.5, 1.5]},
          "encoding": {
            "x": {"datum": {"year": 2018, "month": 6, "date": 28, "utc": true}, "type": "temporal", "title": null},
            "x2": {"datum": {"year": 2018, "month": 8, "date": 2, "utc": true}},
            "y": {"field": "p", "type": "quantitative", "title": null},
            "color": {"condition": {"test": "datum.k == 'b'", "value": "#8c8ce0"}, "value": "#9a9a9a"}
          }
        },
        {
          "mark": {"type": "text", "align": "left", "baseline": "top", "fontSize": 7.5, "dy": 1},
          "encoding": {
            "x": {"datum": {"year": 2018, "month": 8, "date": 4, "utc": true}, "type": "temporal", "title": null},
            "y": {"field": "p", "type": "quantitative", "title": null},
            "text": {"field": "t"},
            "color": {"condition": {"test": "datum.k == 'b'", "value": "#5a5ad6"}, "value": "#555555"}
          }
        }
      ]
    },
    {
      "data": {"values": [
        {"p": 1.34333, "k": "a", "t": "0.786(1.34333)"},
        {"p": 1.31426, "k": "a", "t": "0.618(1.31426)"},
        {"p": 1.29253, "k": "b", "t": "0.5(1.29253)"},
        {"p": 1.27349, "k": "a", "t": "0.382(1.27349)"},
        {"p": 1.24818, "k": "a", "t": "0.236(1.24818)"}
      ]},
      "mark": {"type": "text", "align": "left", "baseline": "top", "fontSize": 7.5, "dy": 1},
      "encoding": {
        "x": {"datum": {"year": 2017, "month": 6, "date": 5, "utc": true}, "type": "temporal", "title": null},
        "y": {"field": "p", "type": "quantitative", "title": null},
        "text": {"field": "t"},
        "color": {"condition": {"test": "datum.k == 'b'", "value": "#5a7cf0"}, "value": "#444444"}
      }
    },
    {
      "data": {"values": [
        {"p": 1.3335, "t": "EMA (55, close)", "k": "n"},
        {"p": 1.3292, "t": "EMA (34, close)", "k": "n"},
        {"p": 1.3254, "t": "SMA (5, close)", "k": "n"},
        {"p": 1.3215, "t": "SMA (200, close)", "k": "n"},
        {"p": 1.3169, "t": "Ichimoku (9, 26, 52, 26)", "k": "f"}
      ]},
      "mark": {"type": "text", "align": "left", "baseline": "middle", "fontSize": 7.5},
      "encoding": {
        "x": {"datum": {"year": 2017, "month": 6, "date": 15, "utc": true}, "type": "temporal", "title": null},
        "y": {"field": "p", "type": "quantitative", "title": null},
        "text": {"field": "t"},
        "color": {"condition": {"test": "datum.k == 'f'", "value": "#b8b8b8"}, "value": "#555555"}
      }
    },
    {
      "data": {"values": [
        {"d": "2017-08-27", "p": 1.3335, "t": "1.2893", "k": "navy"},
        {"d": "2017-08-27", "p": 1.3292, "t": "1.2941", "k": "red"},
        {"d": "2017-08-22", "p": 1.3254, "t": "1.3096", "k": "blue"},
        {"d": "2017-08-27", "p": 1.3215, "t": "1.2693", "k": "red"}
      ]},
      "mark": {"type": "text", "align": "left", "baseline": "middle", "fontSize": 7.5},
      "encoding": {
        "x": {"field": "d", "type": "temporal", "title": null},
        "y": {"field": "p", "type": "quantitative", "title": null},
        "text": {"field": "t"},
        "color": {"condition": [{"test": "datum.k == 'red'", "value": "#ff2020"}, {"test": "datum.k == 'blue'", "value": "#3b6ed9"}], "value": "#3535b0"}
      }
    },
    {
      "data": {"values": [
        {"d": "2017-06-30", "p": 1.3377, "t": "U.S. Dollar/Canadian Dollar, 1D, FXCM", "k": "t"},
        {"d": "2017-11-24", "p": 1.3377, "t": "O1.31837 H1.32073 L1.31720 C1.31777", "k": "v"}
      ]},
      "mark": {"type": "text", "align": "left", "baseline": "middle", "fontSize": 9},
      "encoding": {
        "x": {"field": "d", "type": "temporal", "title": null},
        "y": {"field": "p", "type": "quantitative", "title": null},
        "text": {"field": "t"},
        "color": {"condition": {"test": "datum.k == 'v'", "value": "#8a3a3a"}, "value": "#444444"}
      }
    },
    {
      "data": {"values": [{"d": "2018-01-25", "p": 1.3408, "t": "Exit Full Screen (ESC)"}]},
      "mark": {"type": "text", "align": "center", "baseline": "middle", "fontSize": 6.5, "color": "#9a9a9a"},
      "encoding": {
        "x": {"field": "d", "type": "temporal", "title": null},
        "y": {"field": "p", "type": "quantitative", "title": null},
        "text": {"field": "t"}
      }
    },
    {
      "data": {"values": [
        {"p": 1.31777, "k": "cur"},
        {"p": 1.29253, "k": "lvl"},
        {"p": 1.2805, "k": "lvl"},
        {"p": 1.25286, "k": "lvl"}
      ]},
      "layer": [
        {
          "mark": {"type": "rule", "strokeWidth": 12, "strokeCap": "butt"},
          "encoding": {
            "x": {"datum": {"year": 2018, "month": 12, "date": 7, "utc": true}, "type": "temporal", "title": null},
            "x2": {"datum": {"year": 2019, "month": 1, "date": 4, "utc": true}},
            "y": {"field": "p", "type": "quantitative", "title": null},
            "color": {"condition": {"test": "datum.k == 'cur'", "value": "#ff0000"}, "value": "#1c1cff"}
          }
        },
        {
          "mark": {"type": "text", "align": "center", "baseline": "middle", "fontSize": 7.5, "color": "#ffffff"},
          "encoding": {
            "x": {"datum": {"year": 2018, "month": 12, "date": 21, "utc": true}, "type": "temporal", "title": null},
            "y": {"field": "p", "type": "quantitative", "title": null},
            "text": {"field": "p", "format": ".5f"}
          }
        }
      ]
    }
  ]
}
